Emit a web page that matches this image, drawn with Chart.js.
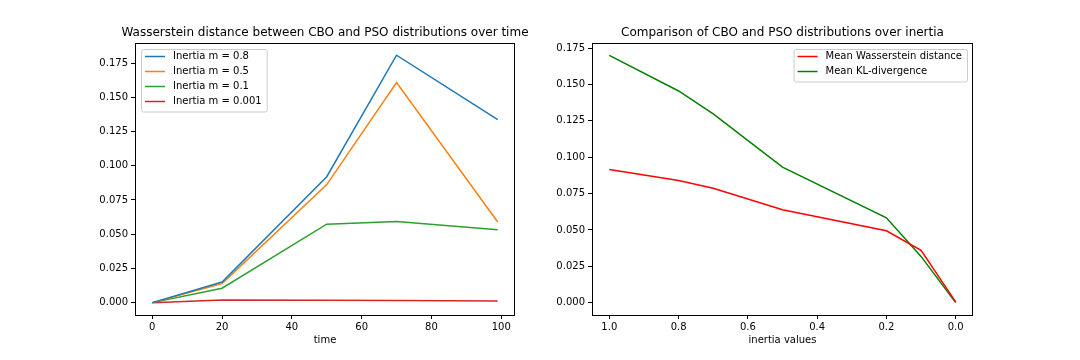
<!DOCTYPE html>
<html>
<head>
<meta charset="utf-8">
<title>CBO vs PSO</title>
<script src="https://cdn.jsdelivr.net/npm/chart.js@4.4.1/dist/chart.umd.min.js"></script>
<style>
  body { margin: 0; background: #fff; }
  #wrap { position: relative; width: 1080px; height: 360px; }
  canvas { position: absolute; top: 0; }
  #leftChart { left: 0; }
  #rightChart { left: 540px; }
</style>
</head>
<body>
<div id="wrap">
  <canvas id="leftChart" width="540" height="360"></canvas>
  <canvas id="rightChart" width="540" height="360"></canvas>
</div>
<script>
// data
const timeSteps = [0, 20, 50, 70, 99];
const inertia08 = [0, 0.0151, 0.0920, 0.1807, 0.1336];
const inertia05 = [0, 0.0139, 0.0862, 0.1607, 0.0589];
const inertia01 = [0, 0.0105, 0.0573, 0.0592, 0.0533];
const inertia0001 = [0, 0.0020, 0.0018, 0.0015, 0.0012];

const inertiaValues = [1.0, 0.8, 0.7, 0.5, 0.2, 0.1, 0.0];
const meanWasserstein = [0.0915, 0.0840, 0.0787, 0.0638, 0.0494, 0.0359, 0.0005];
const meanKL = [0.1700, 0.1455, 0.1297, 0.0931, 0.0583, 0.0318, 0.0];

// tick labels
const timeTicks = [0, 20, 40, 60, 80, 100];
const inertiaTicks = [1.0, 0.8, 0.6, 0.4, 0.2, 0.0];
const distTicks = [0, 0.025, 0.05, 0.075, 0.1, 0.125, 0.15, 0.175];

const FONT = "'DejaVu Sans', sans-serif";

function pairs(xs, ys) {
  return xs.map((x, i) => ({ x: x, y: ys[i] }));
}

function lineSet(label, xs, ys, color) {
  return {
    label: label,
    data: pairs(xs, ys),
    borderColor: color,
    backgroundColor: color,
    borderWidth: 1.5,
    pointRadius: 0,
    tension: 0,
    fill: false,
  };
}

// frame around the axes, the title (not squeezed to the axes width)
// and a matplotlib-like legend box inside the plot
const boxLegend = {
  id: "boxLegend",
  afterDraw(chart, args, opts) {
    const c = chart.ctx;
    const a = chart.chartArea;
    c.save();
    c.strokeStyle = "#000";
    c.lineWidth = 1;
    c.strokeRect(a.left + 0.5, a.top + 0.5, a.right - a.left - 1, a.bottom - a.top);

    c.font = "12px " + FONT;
    c.fillStyle = "#000";
    c.textAlign = "center";
    c.textBaseline = "middle";
    c.fillText(opts.title, (a.left + a.right) / 2, 33);
    c.textAlign = "left";

    c.font = "10px " + FONT;
    const sets = chart.data.datasets;
    let maxW = 0;
    sets.forEach((d) => { maxW = Math.max(maxW, c.measureText(d.label).width); });
    const w = 32 + maxW + 5;
    const h = sets.length * 15 + 2.5;
    const x = opts.corner === "right" ? a.right - 6 - w : a.left + 6;
    const y = a.top + 6;

    c.beginPath();
    c.roundRect(x + 0.5, y + 0.5, w, h, 2);
    c.fillStyle = "rgba(255,255,255,0.8)";
    c.fill();
    c.strokeStyle = "#cccccc";
    c.stroke();

    sets.forEach((d, i) => {
      const ry = y + 7.5 + i * 15;
      c.beginPath();
      c.moveTo(x + 4, ry);
      c.lineTo(x + 24, ry);
      c.strokeStyle = d.borderColor;
      c.lineWidth = 1.5;
      c.stroke();
      c.fillStyle = "#000";
      c.textBaseline = "middle";
      c.fillText(d.label, x + 32, ry);
    });
    c.restore();
  },
};

function axisOpts(extra) {
  return Object.assign({
    type: "linear",
    grid: { drawOnChartArea: false, drawTicks: true, tickLength: 4, color: "#000" },
    border: { display: false },
  }, extra);
}

function tickOpts(fmt, pad) {
  return { color: "#000", font: { family: FONT, size: 10 }, padding: pad, callback: fmt };
}

/////////** Left chart **//////////
const ctxLeft = document.getElementById("leftChart");

new Chart(ctxLeft, {
  type: "line",
  data: {
    datasets: [
      lineSet("Inertia m = 0.8", timeSteps, inertia08, "#1f77b4"),
      lineSet("Inertia m = 0.5", timeSteps, inertia05, "#ff7f0e"),
      lineSet("Inertia m = 0.1", timeSteps, inertia01, "#2ca02c"),
      lineSet("Inertia m = 0.001", timeSteps, inertia0001, "#d62728"),
    ],
  },
  options: {
    responsive: false,
    animation: false,
    layout: { padding: { left: 0, right: 25, top: 43, bottom: 0 } },
    scales: {
      x: axisOpts({
        min: -4.95,
        max: 103.95,
        afterBuildTicks: (s) => { s.ticks = timeTicks.map((v) => ({ value: v })); },
        afterFit: (s) => { s.height = 45; },
        ticks: tickOpts((v) => String(v), 2),
        title: { display: true, text: "time", color: "#000", font: { family: FONT, size: 10 }, padding: { top: 0, bottom: 14 } },
      }),
      y: axisOpts({
        min: -0.00903,
        max: 0.18963,
        afterBuildTicks: (s) => { s.ticks = distTicks.map((v) => ({ value: v })); },
        afterFit: (s) => { s.width = 135; },
        ticks: tickOpts((v) => v.toFixed(3), 3),
      }),
    },
    plugins: {
      legend: { display: false },
      tooltip: { enabled: false },
      title: { display: false },
      boxLegend: {
        corner: "left",
        title: "Wasserstein distance between CBO and PSO distributions over time",
      },
    },
  },
  plugins: [boxLegend],
});

/////////** Right chart **//////////
const ctxRight = document.getElementById("rightChart");

new Chart(ctxRight, {
  type: "line",
  data: {
    datasets: [
      lineSet("Mean Wasserstein distance", inertiaValues, meanWasserstein, "#ff0000"),
      lineSet("Mean KL-divergence", inertiaValues, meanKL, "#008000"),
    ],
  },
  options: {
    responsive: false,
    animation: false,
    layout: { padding: { left: 0, right: 107, top: 43, bottom: 0 } },
    scales: {
      x: axisOpts({
        min: -0.05,
        max: 1.05,
        reverse: true,
        afterBuildTicks: (s) => { s.ticks = inertiaTicks.map((v) => ({ value: v })); },
        afterFit: (s) => { s.height = 45; },
        ticks: tickOpts((v) => v.toFixed(1), 2),
        title: { display: true, text: "inertia values", color: "#000", font: { family: FONT, size: 10 }, padding: { top: 0, bottom: 14 } },
      }),
      y: axisOpts({
        min: -0.0085,
        max: 0.1785,
        afterBuildTicks: (s) => { s.ticks = distTicks.map((v) => ({ value: v })); },
        afterFit: (s) => { s.width = 52; },
        ticks: tickOpts((v) => v.toFixed(3), 3),
      }),
    },
    plugins: {
      legend: { display: false },
      tooltip: { enabled: false },
      title: { display: false },
      boxLegend: {
        corner: "right",
        title: "Comparison of CBO and PSO distributions over inertia",
      },
    },
  },
  plugins: [boxLegend],
});
</script>
</body>
</html>
